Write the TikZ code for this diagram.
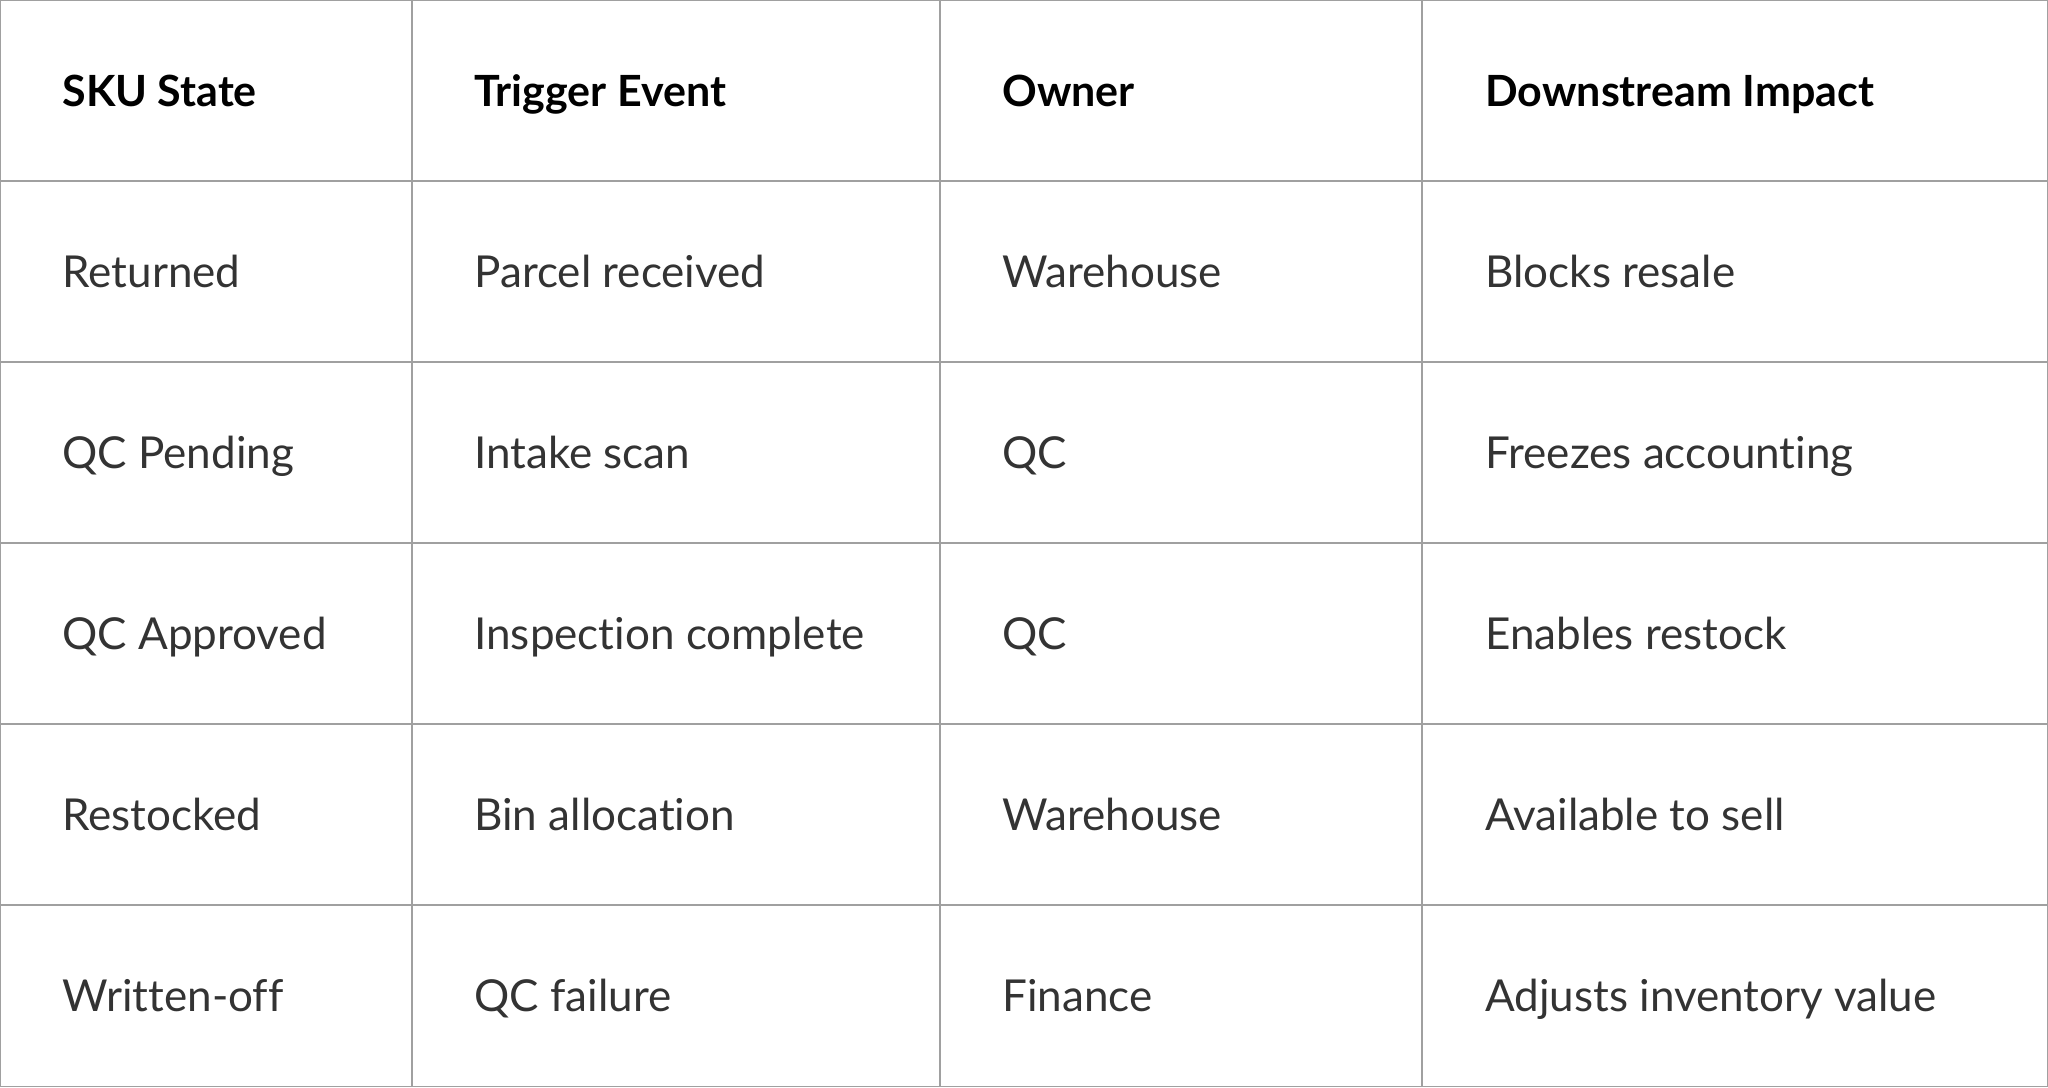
\documentclass[tikz,border=0pt]{standalone}
\usepackage{fontspec}
\setmainfont[Ligatures={NoCommon,NoContextual}]{Lato}
\definecolor{txt}{HTML}{333333}
\definecolor{grid}{HTML}{A0A0A0}
\begin{document}
\begin{tikzpicture}[x=0.5pt,y=-0.5pt,
  cell/.style={anchor=base west,inner sep=0,font=\fontsize{22}{26}\selectfont,text=txt},
  head/.style={anchor=base west,inner sep=0,font=\fontsize{21.5}{26}\selectfont\bfseries,text=black}]
\useasboundingbox (0,0) rectangle (2048,1087);
\draw[grid,line width=0.6pt] (0.5,0.5) rectangle (2047.5,1086.5);
\foreach \x in {412,940,1422}{\draw[grid,line width=0.6pt] (\x,0) -- (\x,1087);}
\foreach \y in {181,362,543,724,905}{\draw[grid,line width=0.6pt] (0,\y) -- (2048,\y);}
\node[head] (h1) at (62,106) {SKU State};
\node[head] (h2) at (474,106) {Trigger Event};
\node[head] (h3) at (1002,106) {Owner};
\node[head] (h4) at (1485,106) {Downstream Impact};
\foreach \i/\a/\b/\c/\d in {1/Returned/Parcel received/Warehouse/Blocks resale,
  2/QC Pending/Intake scan/QC/Freezes accounting,
  3/QC Approved/Inspection complete/QC/Enables restock,
  4/Restocked/Bin allocation/Warehouse/Available to sell,
  5/Written-off/QC failure/Finance/Adjusts inventory value}{
  \node[cell] (a\i) at (62,{106+181*\i}) {\a};
  \node[cell] (b\i) at (474,{106+181*\i}) {\b};
  \node[cell] (c\i) at (1002,{106+181*\i}) {\c};
  \node[cell] (d\i) at (1485,{106+181*\i}) {\d};
}
\end{tikzpicture}
\end{document}
